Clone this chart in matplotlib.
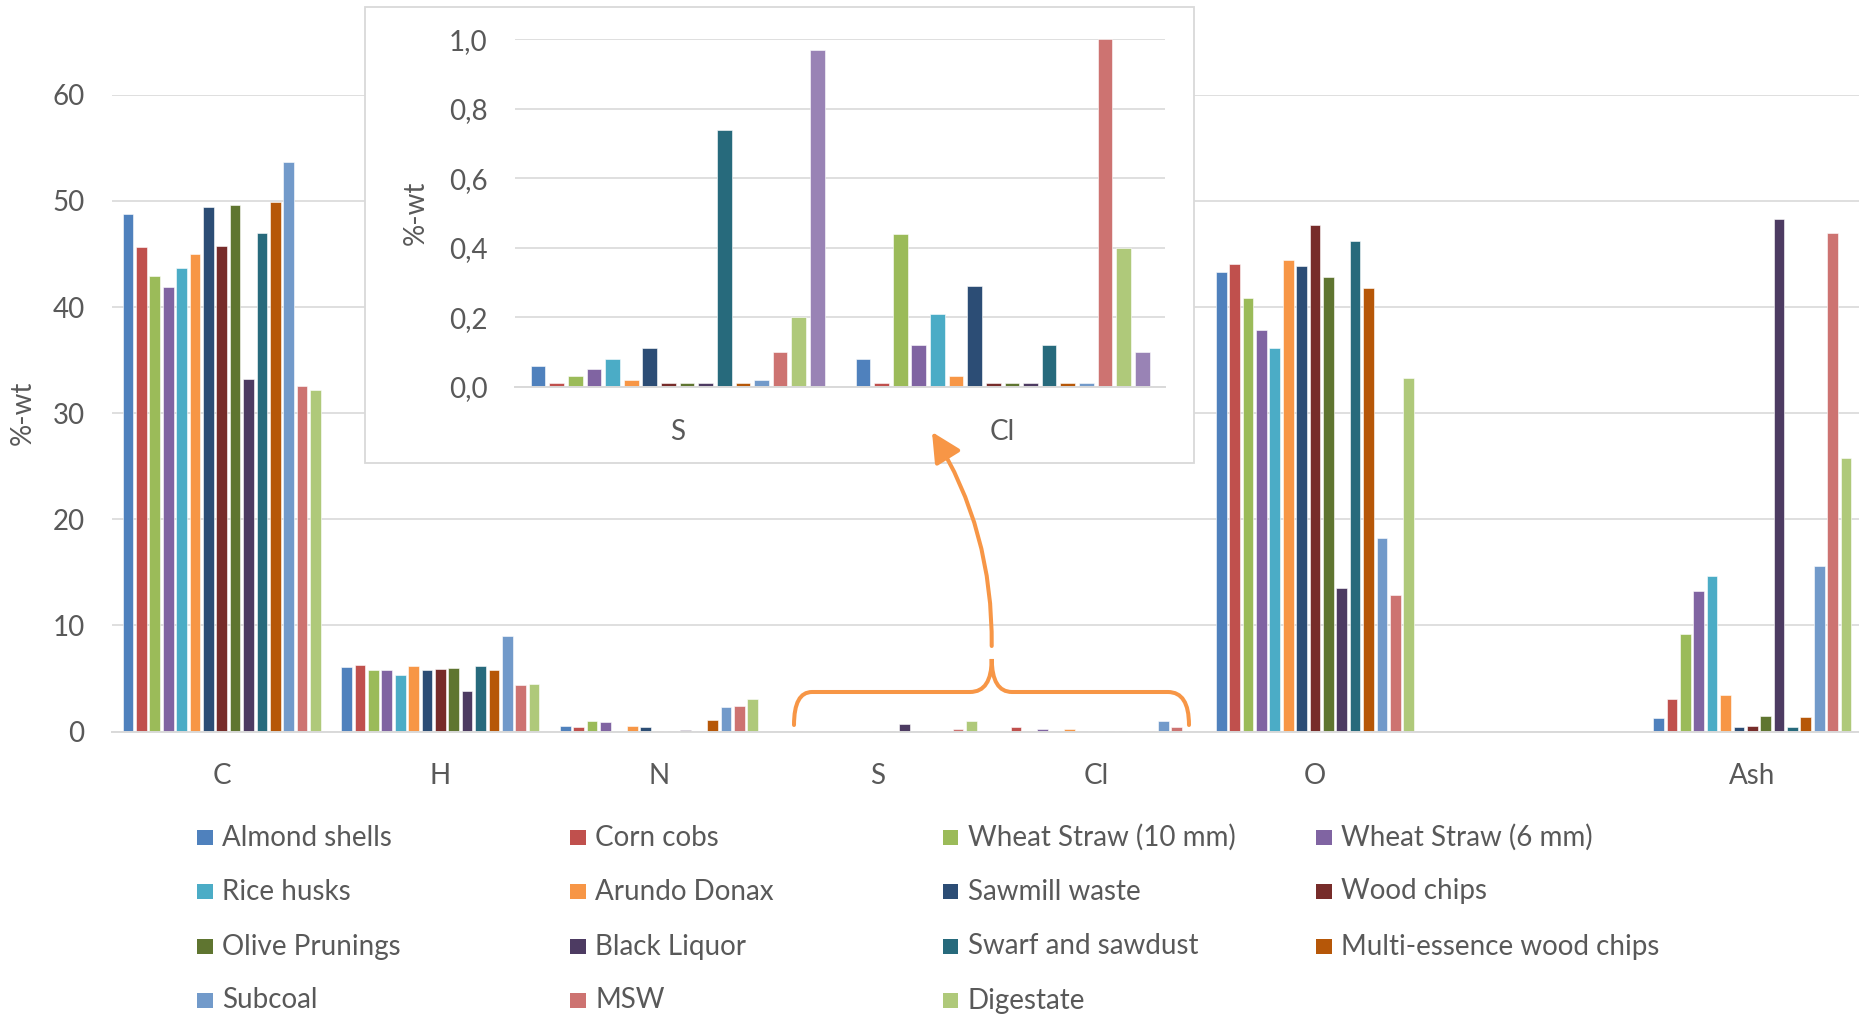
import numpy as np
import matplotlib.pyplot as plt
from matplotlib.patches import Rectangle, FancyArrowPatch, PathPatch
from matplotlib.path import Path
from matplotlib.ticker import FuncFormatter

plt.rcParams['font.family'] = ['Lato', 'DejaVu Sans']

W, H = 1859, 1017

SAMPLES = ['Almond shells', 'Corn cobs', 'Wheat Straw (10 mm)', 'Wheat Straw (6 mm)',
           'Rice husks', 'Arundo Donax', 'Sawmill waste', 'Wood chips',
           'Olive Prunings', 'Black Liquor', 'Swarf and sawdust', 'Multi-essence wood chips',
           'Subcoal', 'MSW', 'Digestate']

COLORS = ['#4F81BD', '#C0504D', '#9BBB59', '#8064A2', '#4BACC6', '#F79646',
          '#2C4D75', '#772C2A', '#5F7530', '#4D3B62', '#276A7C', '#B65708',
          '#729ACA', '#CD7371', '#AFC97A', '#9983B5']

# ultimate analysis, %-wt, one value per sample
CATEGORIES = ['C', 'H', 'N', 'S', 'Cl', 'O', '', 'Ash']
C_WT = [48.8, 45.7, 42.9, 41.9, 43.7, 45.0, 49.4, 45.8, 49.6, 33.2, 47.0, 49.9, 53.7, 32.6, 32.2]
H_WT = [6.12, 6.25, 5.8, 5.8, 5.3, 6.15, 5.8, 5.87, 5.96, 3.85, 6.15, 5.8, 9.0, 4.4, 4.48]
N_WT = [0.5, 0.41, 0.98, 0.88, 0.08, 0.54, 0.41, 0.08, 0.08, 0.13, 0.08, 1.04, 2.27, 2.4, 3.06]
S_WT = [0.02, 0.01, 0.02, 0.05, 0.01, 0.05, 0.02, 0.01, 0.01, 0.73, 0.01, 0.01, 0.05, 0.19, 0.95]
CL_WT = [0.01, 0.41, 0.08, 0.19, 0.01, 0.28, 0.01, 0.01, 0.01, 0.08, 0.01, 0.01, 0.95, 0.38, 0.05]
O_WT = [43.3, 44.1, 40.9, 37.8, 36.1, 44.4, 43.9, 47.7, 42.8, 13.5, 46.2, 41.8, 18.2, 12.9, 33.3]
BLANK = [np.nan] * 15
ASH_WT = [1.26, 3.07, 9.2, 13.26, 14.67, 3.4, 0.4, 0.5, 1.5, 48.3, 0.4, 1.4, 15.6, 47.0, 25.8]
Y_TICKS = [0, 10, 20, 30, 40, 50, 60]

# zoom on S and Cl
INSET_CATEGORIES = ['S', 'Cl']
INSET_S = [0.06, 0.01, 0.03, 0.05, 0.08, 0.02, 0.11, 0.01, 0.01, 0.01, 0.74, 0.01, 0.02, 0.10, 0.20, 0.97]
INSET_CL = [0.08, 0.01, 0.44, 0.12, 0.21, 0.03, 0.29, 0.01, 0.01, 0.01, 0.12, 0.01, 0.01, 1.00, 0.40, 0.10]
INSET_TICKS = [0.0, 0.2, 0.4, 0.6, 0.8, 1.0]

GRID = '#D9D9D9'
TEXT = '#595959'
ORANGE = '#F79646'
FS = 20


def fig_xy(x, y):
    # pixel position (origin top-left) -> figure fraction
    return x / W, 1 - y / H


def style_axis(ax):
    ax.set_axisbelow(True)
    ax.yaxis.grid(True, color=GRID, linewidth=1.2)
    for side in ['top', 'right', 'left']:
        ax.spines[side].set_visible(False)
    ax.spines['bottom'].set_color(GRID)
    ax.spines['bottom'].set_linewidth(1.4)
    ax.tick_params(axis='both', length=0, labelsize=FS, labelcolor=TEXT)
    ax.tick_params(axis='y', pad=20)
    ax.tick_params(axis='x', pad=23)


fig = plt.figure(figsize=(W / 100, H / 100), dpi=100)

# main chart
ax = fig.add_axes([112.4 / W, 1 - 731.5 / H, (1861.6 - 112.4) / W, (731.5 - 94.85) / H])
table = np.array([C_WT, H_WT, N_WT, S_WT, CL_WT, O_WT, BLANK, ASH_WT]).T
x = np.arange(len(CATEGORIES))
slot = 0.0612
for j, (name, color) in enumerate(zip(SAMPLES, COLORS)):
    ax.bar(x + (j - 7) * slot, table[j], width=slot * 0.8, color=color,
           edgecolor='white', linewidth=0.4, label=name)
ax.set_xlim(-0.5, len(CATEGORIES) - 0.5)
ax.set_ylim(0, 60)
ax.set_yticks(Y_TICKS)
ax.set_xticks(x)
ax.set_xticklabels(CATEGORIES)
style_axis(ax)
ax.set_ylabel('%-wt', fontsize=FS, color=TEXT)
ax.yaxis.set_label_coords(-0.0437, 0.5)

# inset frame
x0, y0 = fig_xy(364.7, 463.3)
x1, y1 = fig_xy(1194, 6.7)
frame = Rectangle((x0, y0), x1 - x0, y1 - y0, transform=fig.transFigure,
                  facecolor='white', edgecolor=GRID, linewidth=1.3, zorder=1)
fig.add_artist(frame)

# inset chart
ins = fig.add_axes([515.3 / W, 1 - 386.7 / H, (1165 - 515.3) / W, (386.7 - 39.3) / H])
ins.set_zorder(2)
ins.set_facecolor('none')
xi = np.arange(len(INSET_CATEGORIES))
inset_table = np.array([INSET_S, INSET_CL]).T
islot = 0.0573
for j in range(len(INSET_S)):
    ins.bar(xi + (j - 7.5) * islot, inset_table[j], width=islot * 0.79,
            color=COLORS[j], edgecolor='white', linewidth=0.4)
ins.set_xlim(-0.5, 1.5)
ins.set_ylim(0, 1.0)
ins.set_yticks(INSET_TICKS)
ins.yaxis.set_major_formatter(FuncFormatter(lambda v, p: f'{v:.1f}'.replace('.', ',')))
ins.set_xticks(xi)
ins.set_xticklabels(INSET_CATEGORIES)
style_axis(ins)
ins.set_ylabel('%-wt', fontsize=FS, color=TEXT)
ins.yaxis.set_label_coords(-0.133, 0.5)

# brace under S and Cl
pts = [(794, 725), (794, 692), (812, 692), (970, 692), (991.7, 692), (991.7, 659),
       (992, 692), (1012, 692), (1168, 692), (1189, 692), (1189, 725)]
codes = [Path.MOVETO, Path.CURVE3, Path.CURVE3, Path.LINETO, Path.CURVE3, Path.CURVE3,
         Path.CURVE3, Path.CURVE3, Path.LINETO, Path.CURVE3, Path.CURVE3]
brace = PathPatch(Path([fig_xy(*p) for p in pts], codes), transform=fig.transFigure,
                  facecolor='none', edgecolor=ORANGE, linewidth=2.9, capstyle='round', zorder=3)
fig.add_artist(brace)

# arrow pointing up to the inset
arrow = FancyArrowPatch(fig_xy(991.7, 646), fig_xy(932, 432), transform=fig.transFigure,
                        connectionstyle='arc3,rad=0.146',
                        arrowstyle='-|>,head_length=0.9,head_width=0.45', mutation_scale=20,
                        color=ORANGE, linewidth=2.9, shrinkA=0, shrinkB=0, zorder=3)
fig.add_artist(arrow)

# legend, filled row by row in four even columns
col_x = [197, 570, 943, 1316]
row_y = [837.5, 891.5, 946.5, 1000.5]
box = 15.5
for j, (name, color) in enumerate(zip(SAMPLES, COLORS)):
    cx, cy = col_x[j % 4], row_y[j // 4]
    bx, by = fig_xy(cx, cy + box / 2)
    fig.add_artist(Rectangle((bx, by), box / W, box / H, transform=fig.transFigure,
                             facecolor=color, edgecolor='none'))
    tx, ty = fig_xy(cx + 25, cy)
    fig.text(tx, ty, name, fontsize=FS, color=TEXT, va='center', ha='left')

fig.savefig('out.png', dpi=100)
